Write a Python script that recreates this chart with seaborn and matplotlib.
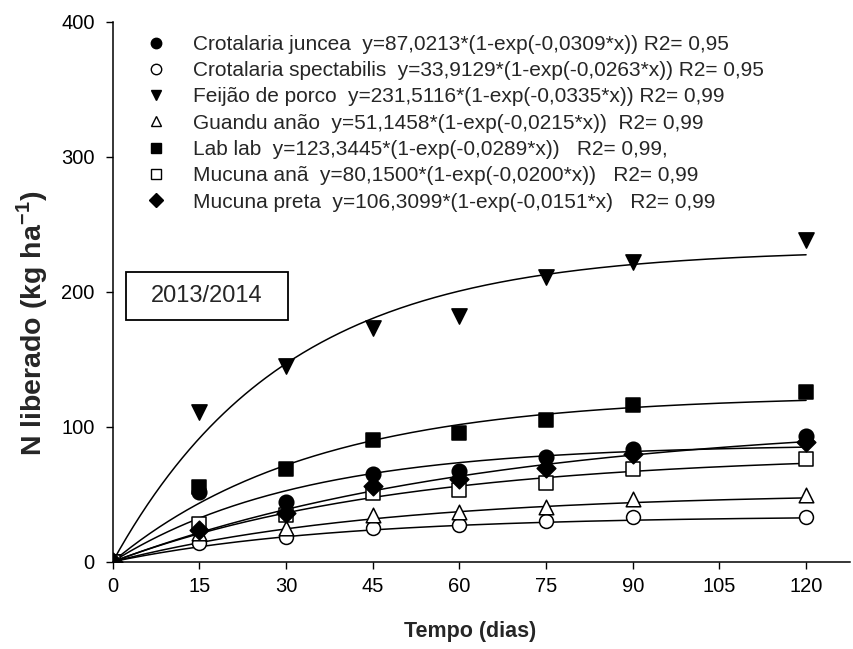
import numpy as np
import pandas as pd
import seaborn as sns
import matplotlib
matplotlib.use("Agg")
import matplotlib.pyplot as plt
from matplotlib.lines import Line2D
from matplotlib.patches import Rectangle

# ---- data ----
dias = [0, 15, 30, 45, 60, 75, 90, 120]
especies = ["Crotalaria juncea", "Crotalaria spectabilis", "Feijão de porco",
            "Guandu anão", "Lab lab", "Mucuna anã", "Mucuna preta"]
crot_juncea = [0, 52, 44.5, 64.8, 67.5, 77.2, 83.4, 92.8]
crot_spectabilis = [0, 14.1, 18.1, 24.8, 27.2, 30.4, 33.4, 33.0]
feijao_porco = [0, 111, 145, 173, 182, 211, 222, 238]
guandu_anao = [0, 21, 24.8, 34.7, 37.1, 40.4, 46.5, 49.5]
lab_lab = [0, 55, 68.6, 90.3, 95.3, 105.2, 115.8, 125.7]
mucuna_ana = [0, 28, 34.7, 50.7, 53.2, 58.2, 68.6, 76.0]
mucuna_preta = [0, 23.5, 35.9, 56.2, 61.1, 69.3, 80.0, 89.0]
valores = [crot_juncea, crot_spectabilis, feijao_porco, guandu_anao,
           lab_lab, mucuna_ana, mucuna_preta]

# fitted model parameters y = a*(1-exp(-b*x))
param_a = [87.0213, 33.9129, 231.5116, 51.1458, 123.3445, 80.1500, 106.3099]
param_b = [0.0309, 0.0263, 0.0335, 0.0215, 0.0289, 0.0200, 0.0151]
rotulos = [
    "Crotalaria juncea  y=87,0213*(1-exp(-0,0309*x)) R2= 0,95",
    "Crotalaria spectabilis  y=33,9129*(1-exp(-0,0263*x)) R2= 0,95",
    "Feijão de porco  y=231,5116*(1-exp(-0,0335*x)) R2= 0,99",
    "Guandu anão  y=51,1458*(1-exp(-0,0215*x))  R2= 0,99",
    "Lab lab  y=123,3445*(1-exp(-0,0289*x))   R2= 0,99,",
    "Mucuna anã  y=80,1500*(1-exp(-0,0200*x))   R2= 0,99",
    "Mucuna preta  y=106,3099*(1-exp(-0,0151*x)   R2= 0,99",
]
y_ticks = [0, 100, 200, 300, 400]
x_ticks = [0, 15, 30, 45, 60, 75, 90, 105, 120]
ano = "2013/2014"

# ---- styles ----
marcadores = ["o", "o", "v", "^", "s", "s", "D"]
preenchido = [True, False, True, False, True, False, True]
tam = [110, 100, 120, 110, 100, 100, 90]

sns.set_theme(style="ticks")
plt.rcParams["font.family"] = ["Liberation Sans", "DejaVu Sans"]
plt.rcParams["mathtext.fontset"] = "custom"
plt.rcParams["mathtext.rm"] = "Liberation Sans"
plt.rcParams["mathtext.bf"] = "Liberation Sans:bold"

W, H = 854, 649
fig = plt.figure(figsize=(W / 100, H / 100), dpi=100)
ax = fig.add_axes([112.7 / W, 1 - 561.7 / H, (850 - 112.7) / W, (561.7 - 21.7) / H])

# curves
xs = np.linspace(0, 120, 300)
curvas = []
for nome, a, b in zip(especies, param_a, param_b):
    curvas.append(pd.DataFrame({"x": xs, "y": a * (1 - np.exp(-b * xs)), "esp": nome}))
df_c = pd.concat(curvas)
for nome in especies:
    sns.lineplot(data=df_c[df_c.esp == nome], x="x", y="y", color="black",
                 linewidth=1.1, ax=ax, legend=False, zorder=2)

# points
for nome, v, m, f, s in zip(especies, valores, marcadores, preenchido, tam):
    d = pd.DataFrame({"x": dias, "y": v})
    sns.scatterplot(data=d, x="x", y="y", marker=m, s=s,
                    facecolor="black" if f else "white", edgecolor="black",
                    linewidth=1.1, ax=ax, legend=False, zorder=3)

ax.set_xlim(0, 127.6)
ax.set_ylim(0, 400)
ax.set_xticks(x_ticks)
ax.set_yticks(y_ticks)
ax.tick_params(axis="both", direction="out", length=5, width=1, labelsize=14.5,
               color="black", labelcolor="black")
ax.tick_params(axis="y", pad=8)
ax.tick_params(axis="x", pad=6)
for sp in ["top", "right"]:
    ax.spines[sp].set_visible(False)
for sp in ["left", "bottom"]:
    ax.spines[sp].set_color("black")
    ax.spines[sp].set_linewidth(1.1)
ax.set_xlabel("")
ax.set_ylabel("")

fig.text(470 / W, 1 - 632 / H, "Tempo (dias)", ha="center", va="center",
         fontsize=15.5, fontweight="bold")
fig.text(32 / W, 1 - 323 / H, r"N liberado (kg ha$^{\mathbf{-1}}$)", ha="center",
         va="center", rotation=90, fontsize=20.5, fontweight="bold")

# legend
handles = [Line2D([], [], linestyle="none", marker=m, markersize=7.5,
                  markerfacecolor="black" if f else "white", markeredgecolor="black",
                  markeredgewidth=1.0)
           for m, f in zip(marcadores, preenchido)]
leg = ax.legend(handles, rotulos, loc="upper left", bbox_to_anchor=(0.0446, 0.9757),
                frameon=False, fontsize=15, borderpad=0, borderaxespad=0,
                handlelength=1.0, handletextpad=1.28, labelspacing=0.35)

# year box
bx0, bx1, by0, by1 = 126, 288, 272, 320
fig.patches.append(Rectangle((bx0 / W, 1 - by1 / H), (bx1 - bx0) / W, (by1 - by0) / H,
                             transform=fig.transFigure, facecolor="white",
                             edgecolor="black", linewidth=1.3, zorder=5))
fig.text((bx0 + bx1) / 2 / W, 1 - (by0 + by1) / 2 / H, ano, ha="center", va="center",
         fontsize=17, zorder=6)

fig.savefig("out.png", dpi=100)
